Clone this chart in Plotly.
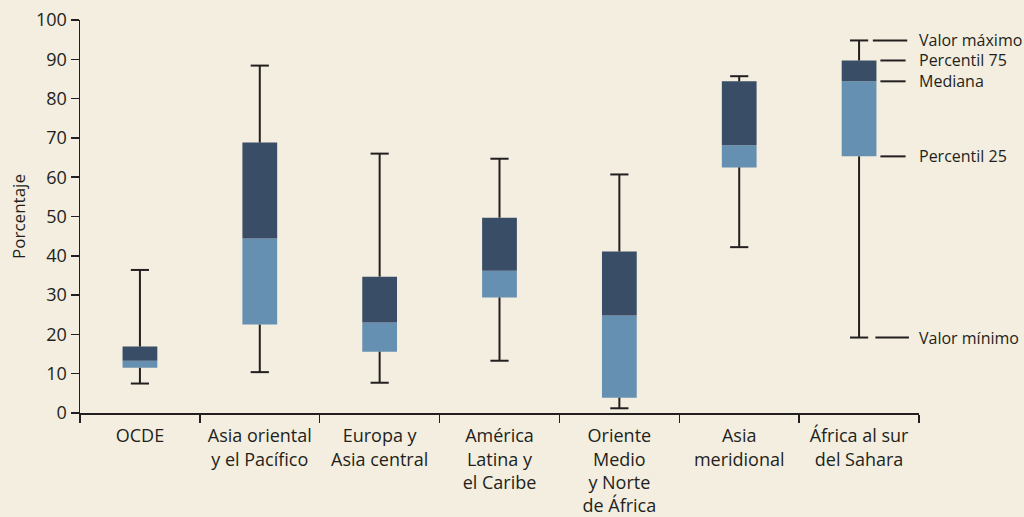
import plotly.graph_objects as go

categories = ["OCDE", "Asia oriental<br>y el Pacífico", "Europa y<br>Asia central",
              "América<br>Latina y<br>el Caribe", "Oriente<br>Medio<br>y Norte<br>de África",
              "Asia<br>meridional", "África al sur<br>del Sahara"]
val_min = [7.5, 10.4, 7.7, 13.3, 1.2, 42.2, 19.2]
val_q1 = [11.5, 22.5, 15.6, 29.4, 3.9, 62.5, 65.3]
val_med = [13.3, 44.4, 23.0, 36.2, 24.8, 68.1, 84.4]
val_q3 = [16.9, 68.8, 34.7, 49.7, 41.1, 84.4, 89.7]
val_max = [36.4, 88.4, 66.0, 64.7, 60.7, 85.7, 94.8]
legend_labels = ["Valor máximo", "Percentil 75", "Mediana", "Percentil 25", "Valor mínimo"]

INK = "#231f20"
DARK = "#3a4d66"
LIGHT = "#6690b1"
BG = "#f3eedf"
FONT = "Open Sans"

fig = go.Figure()

fig.add_trace(go.Bar(x=categories, y=[m - q for m, q in zip(val_med, val_q1)], base=val_q1,
                     marker=dict(color=LIGHT, line=dict(width=0)), width=0.29, hoverinfo="skip"))
fig.add_trace(go.Bar(x=categories, y=[q - m for q, m in zip(val_q3, val_med)], base=val_med,
                     marker=dict(color=DARK, line=dict(width=0)), width=0.29, hoverinfo="skip"))

wx, wy = [], []
for c, lo, q1, q3, hi in zip(categories, val_min, val_q1, val_q3, val_max):
    wx += [c, c, None, c, c, None]
    wy += [lo, q1, None, q3, hi, None]
fig.add_trace(go.Scatter(x=wx, y=wy, mode="lines", line=dict(color=INK, width=2),
                         hoverinfo="skip", connectgaps=False))
fig.add_trace(go.Scatter(x=categories + categories, y=val_min + val_max, mode="markers",
                         marker=dict(symbol="line-ew", size=13, line=dict(color=INK, width=2)),
                         hoverinfo="skip"))

k = len(categories) - 1
key_vals = [val_max[k], val_q3[k], val_med[k], val_q1[k], val_min[k]]
key_x = [(0.945, 0.986), (0.954, 0.984), (0.954, 0.984), (0.954, 0.984), (0.948, 0.988)]
for lab, v, (x0, x1) in zip(legend_labels, key_vals, key_x):
    fig.add_shape(type="line", xref="paper", yref="y", x0=x0, x1=x1, y0=v, y1=v,
                  line=dict(color=INK, width=2))
    fig.add_annotation(xref="paper", yref="y", x=1.0, y=v, text=lab, showarrow=False,
                       xanchor="left", yanchor="middle", xshift=-2,
                       font=dict(size=16, color=INK, family=FONT))

fig.update_layout(
    width=1024, height=517,
    margin=dict(l=80, r=105, t=20, b=104, autoexpand=False),
    paper_bgcolor=BG, plot_bgcolor=BG,
    showlegend=False, barmode="overlay",
    font=dict(family=FONT, size=16, color=INK),
)
fig.update_xaxes(type="category", tickson="boundaries", ticks="outside", ticklen=8,
                 tickwidth=1.5, tickcolor=INK, showline=True, linecolor=INK, linewidth=1.5,
                 showgrid=False, zeroline=False, range=[-0.5, 6.5], automargin=False,
                 ticklabelstandoff=6,
                 tickfont=dict(size=18, color=INK, family=FONT))
fig.update_yaxes(range=[0, 100], dtick=10, ticks="outside", ticklen=8, tickwidth=1.5,
                 tickcolor=INK, showline=True, linecolor=INK, linewidth=1.5,
                 showgrid=False, zeroline=False, automargin=False,
                 title=dict(text="Porcentaje", font=dict(size=17, color=INK, family=FONT), standoff=6),
                 tickfont=dict(size=18, color=INK, family=FONT))

fig.write_html("out.html", config={"displayModeBar": False, "staticPlot": True})

with open("out.html", "r", encoding="utf-8") as f:
    html = f.read()
html = html.replace("<head>", "<head><style>html,body{margin:0;padding:0;overflow:hidden;}</style>", 1)
with open("out.html", "w", encoding="utf-8") as f:
    f.write(html)
